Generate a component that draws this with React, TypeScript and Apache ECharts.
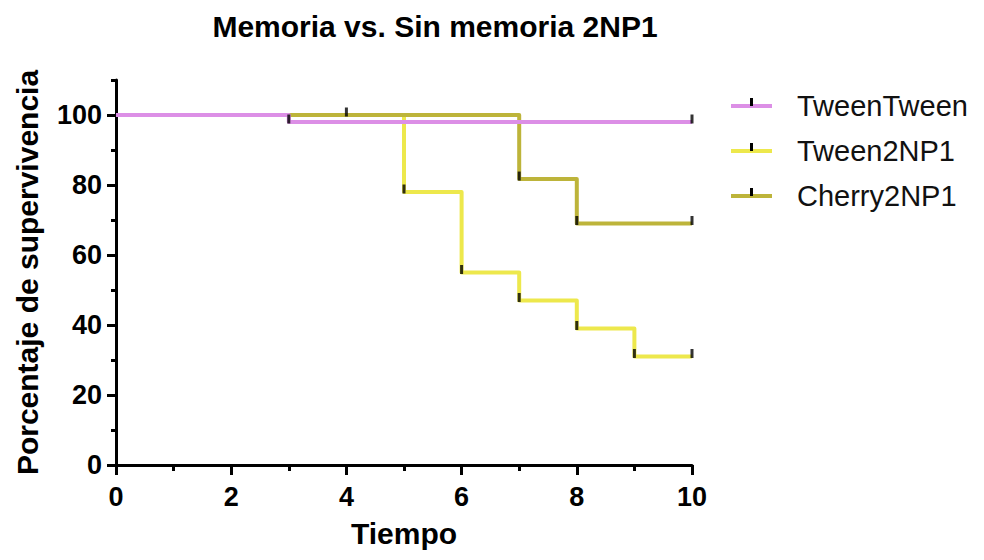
import React, { useEffect, useRef } from "react";
import * as echarts from "echarts";

// Kaplan–Meier survival steps: [time, % surviving]
const seriesNames = ["TweenTween", "Tween2NP1", "Cherry2NP1"];
const tweenTween: [number, number][] = [[0, 100], [3, 98], [10, 98]];
const tween2NP1: [number, number][] = [[0, 100], [5, 78], [6, 55], [7, 47], [8, 39], [9, 31], [10, 31]];
const cherry2NP1: [number, number][] = [[0, 100], [7, 81.7], [8, 69], [10, 69]];

// times that carry a tick mark on each curve
const tweenTweenMarks = [3, 10];
const tween2NP1Marks = [4, 5, 6, 7, 8, 9, 10];
const cherry2NP1Marks = [7, 8, 10];

const colors = ["#dc8fe6", "#ede84c", "#bdb43a"];

const xMajor = [0, 2, 4, 6, 8, 10];
const xMinor = [1, 3, 5, 7, 9];
const yMajor = [0, 20, 40, 60, 80, 100];
const yMinor = [10, 30, 50, 70, 90, 110];

const FONT = "'Liberation Sans', Arial, sans-serif";

// survival level in effect at time t (value after any drop at t)
function levelAt(curve: [number, number][], t: number): number {
  let v = curve[0][1];
  for (const [x, y] of curve) {
    if (x <= t) v = y;
  }
  return v;
}

export default function App() {
  const ref = useRef<HTMLDivElement>(null);

  useEffect(() => {
    if (!ref.current) return;
    const chart = echarts.init(ref.current, null, { renderer: "svg" });
    const curves = [tweenTween, tween2NP1, cherry2NP1];
    const marks = [tweenTweenMarks, tween2NP1Marks, cherry2NP1Marks];
    // drawing order: TweenTween on top, Cherry2NP1 over Tween2NP1
    const zOrder = [3, 1, 2];

    const lineSeries = curves.map((c, i) => ({
      name: seriesNames[i],
      type: "line",
      step: "end",
      data: c,
      showSymbol: false,
      symbol: "none",
      lineStyle: { color: colors[i], width: 4, join: "round" },
      z: zOrder[i],
    }));

    const markSeries = curves.map((c, i) => ({
      name: seriesNames[i] + " marks",
      type: "scatter",
      data: marks[i].map((t) => [t, levelAt(c, t)]),
      symbol: "rect",
      symbolSize: [3, 9],
      symbolOffset: [0, -3],
      itemStyle: { color: "#000" },
      z: 5,
    }));

    const legendRows = [106, 151, 196];
    const legendGraphics: any[] = [];
    seriesNames.forEach((n, i) => {
      const y = legendRows[i];
      legendGraphics.push(
        { type: "line", shape: { x1: 731, y1: y, x2: 772, y2: y }, style: { stroke: colors[i], lineWidth: 4 } },
        { type: "rect", shape: { x: 750, y: y - 8, width: 3, height: 8 }, style: { fill: "#000" } },
        {
          type: "text",
          x: 797,
          y: y,
          style: { text: n, font: `29px ${FONT}`, fill: "#111", verticalAlign: "middle" },
        }
      );
    });

    const axisLineStyle = { color: "#000", width: 3 };

    chart.setOption({
      animation: false,
      backgroundColor: "#fff",
      title: {
        text: "Memoria vs. Sin memoria 2NP1",
        left: 430,
        top: 6,
        textAlign: "center",
        textStyle: { fontFamily: FONT, fontWeight: "bold", fontSize: 30, color: "#000" },
      },
      grid: { left: 116, top: 80, width: 576, height: 385 },
      xAxis: [
        {
          type: "value",
          min: 0,
          max: 10,
          interval: 1,
          name: "Tiempo",
          nameLocation: "middle",
          nameGap: 53,
          nameTextStyle: { fontFamily: FONT, fontWeight: "bold", fontSize: 30, color: "#000" },
          axisLine: { show: true, onZero: false, lineStyle: axisLineStyle },
          axisTick: { show: true, length: 10, lineStyle: axisLineStyle, customValues: xMajor },
          axisLabel: {
            customValues: xMajor,
            margin: 18,
            fontFamily: FONT,
            fontWeight: "bold",
            fontSize: 27,
            color: "#000",
          },
          splitLine: { show: false },
        },
        {
          type: "value",
          min: 0,
          max: 10,
          interval: 1,
          position: "bottom",
          axisLine: { show: false },
          axisTick: { show: true, length: 6, lineStyle: axisLineStyle, customValues: xMinor },
          axisLabel: { show: false },
          splitLine: { show: false },
        },
      ],
      yAxis: [
        {
          type: "value",
          min: 0,
          max: 110,
          interval: 10,
          name: "Porcentaje de supervivencia",
          nameLocation: "middle",
          nameGap: 74,
          nameTextStyle: { fontFamily: FONT, fontWeight: "bold", fontSize: 30, color: "#000" },
          axisLine: { show: true, onZero: false, lineStyle: axisLineStyle },
          axisTick: { show: true, length: 9, lineStyle: axisLineStyle, customValues: yMajor },
          axisLabel: {
            customValues: yMajor,
            margin: 14,
            fontFamily: FONT,
            fontWeight: "bold",
            fontSize: 27,
            color: "#000",
          },
          splitLine: { show: false },
        },
        {
          type: "value",
          min: 0,
          max: 110,
          interval: 10,
          position: "left",
          axisLine: { show: false },
          axisTick: { show: true, length: 5, lineStyle: axisLineStyle, customValues: yMinor },
          axisLabel: { show: false },
          splitLine: { show: false },
        },
      ],
      series: [...lineSeries, ...markSeries],
      graphic: legendGraphics,
    });

    return () => chart.dispose();
  }, []);

  return <div ref={ref} style={{ width: 984, height: 560, margin: -8 }} />;
}
